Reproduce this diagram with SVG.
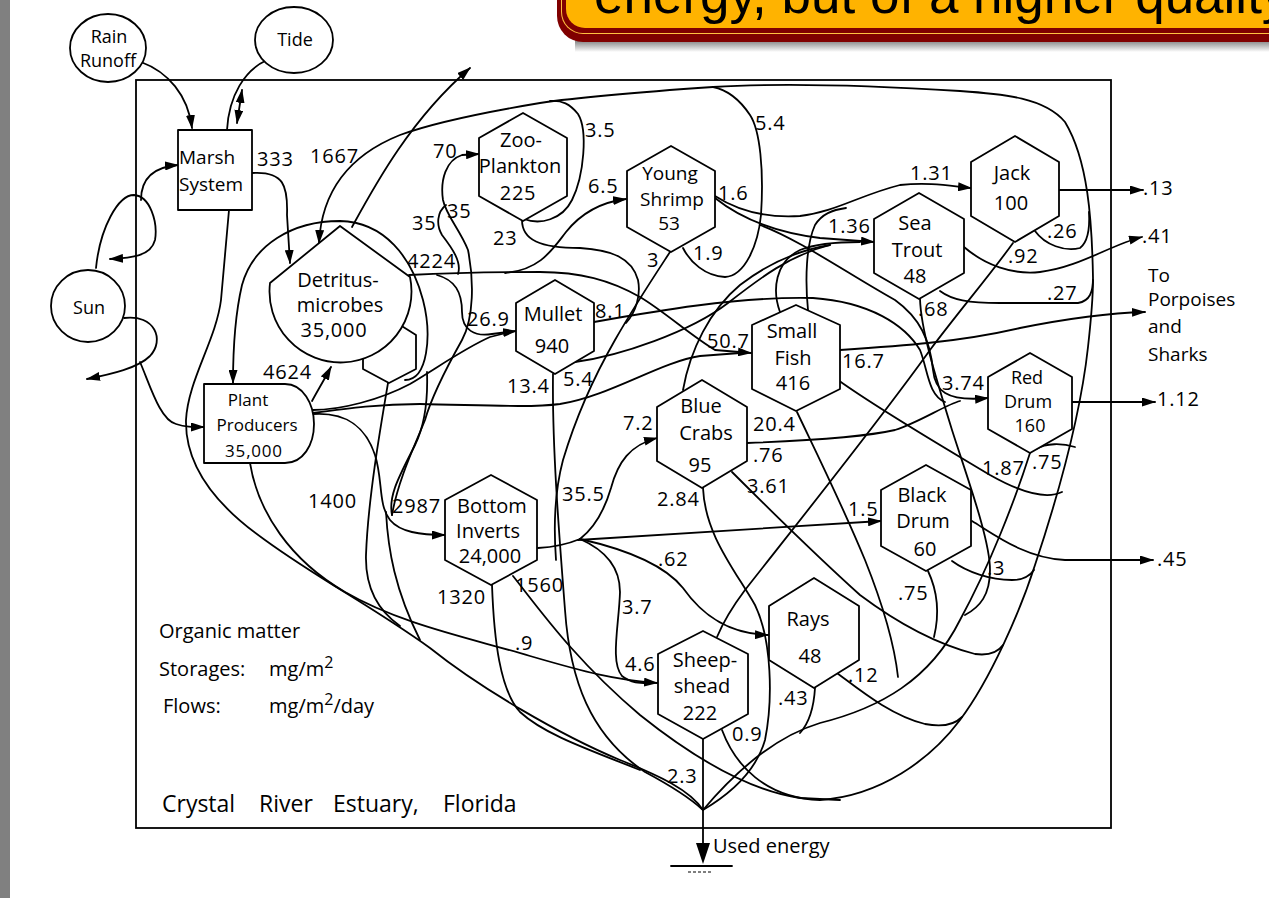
<svg xmlns="http://www.w3.org/2000/svg" width="1269" height="898" viewBox="0 0 1269 898">
<defs>
<style>
.ln{fill:none;stroke:#000;stroke-width:1.8;stroke-linecap:round;stroke-linejoin:round}
.ar{marker-end:url(#ah)}
.nd{fill:#fff;stroke:#000;stroke-width:1.8;stroke-linejoin:round}
.t{font-family:'Open Sans','DejaVu Sans',sans-serif;fill:#000}
.nt{font-size:20px;text-anchor:middle}
.num{font-size:20px;letter-spacing:0.8px}
</style>
<marker id="ah" viewBox="0 0 14 9" refX="13" refY="4.5" markerWidth="14" markerHeight="9" markerUnits="userSpaceOnUse" orient="auto-start-reverse"><path d="M0,0 L14,4.5 L0,9 z" fill="#000"/></marker>
<linearGradient id="sh" x1="0" y1="0" x2="0" y2="1"><stop offset="0" stop-color="#666"/><stop offset="1" stop-color="#fff"/></linearGradient>
</defs>
<rect width="1269" height="898" fill="#fff"/>
<rect x="0" y="0" width="10" height="898" fill="#808080"/>
<g id="banner">
<rect x="575" y="38" width="720" height="14" fill="url(#sh)"/>
<rect x="557" y="-40" width="740" height="82" rx="26" fill="#800000"/>
<rect x="561" y="-40" width="730" height="74" rx="22" fill="#FFC040"/>
<rect x="562" y="-40" width="728" height="73" rx="21" fill="#800000"/>
<rect x="566" y="-40" width="720" height="68" rx="19" fill="#FFB300"/>
<text x="594" y="13" style="font-family:'Liberation Sans',Arial,sans-serif;font-size:53px" fill="#000">energy, but of a higher quality</text>
</g>
<rect id="frame" x="136" y="80" width="975" height="748" fill="none" stroke="#000" stroke-width="1.8"/>
<g id="connectors">
<path class="ln ar" d="M141,62 C168,72 188,95 192,128"/>
<path class="ln" d="M267,60 C245,70 229,95 227,130"/>
<path class="ln ar" style="marker-start:url(#ah)" d="M242,90 L237,123"/>
<path class="ln ar" d="M96,268 C100,228 118,195 134,195 C150,196 158,222 155,240 C151,256 132,258 110,259"/>
<path class="ln ar" d="M141,200 C141,180 152,167 178,165"/>
<path class="ln ar" d="M124,318 C155,314 165,340 150,356 C138,368 112,374 87,379"/>
<path class="ln ar" d="M140,362 C150,385 160,420 176,424 C185,427 192,427 204,427"/>
<path class="ln" d="M229,210 L221,300 C216,340 188,380 186,420 C185,465 215,505 265,540 C320,580 370,605 430,648 C480,688 560,735 620,760 C660,776 690,790 703,810"/>
<path class="ln ar" d="M250,463 C258,512 290,560 345,592 C400,624 470,638 530,656 C585,672 615,680 657,683"/>
<path class="ln ar" d="M405,380 C428,380 432,335 423,300 C412,258 385,222 340,221 C292,221 253,245 242,285 C235,315 233,350 233,383"/>
<path class="ln ar" d="M252,173 C284,171 288,186 287,215 L290,263"/>
<path class="ln ar" d="M940,291 C952,300 968,303 1000,303 L1078,303 C1090,301 1093,292 1093,278 C1092,220 1088,160 1065,122 C1045,98 1005,94 960,91 C880,86 790,82 713,87 C640,92 580,97 540,103 C480,113 430,124 400,135 C355,153 322,185 319,243"/>
<path class="ln" d="M722,730 C735,765 765,798 820,800 C880,796 930,760 960,720 C990,680 1020,612 1035,565 C1055,505 1080,420 1088,347 C1091,320 1093,300 1093,280"/>
<path class="ln" d="M1030,453 C1015,500 990,565 960,620 C930,680 880,708 820,723 C770,738 730,778 703,810"/>
<path class="ln" d="M1036,449 C1046,443 1062,443 1075,447"/>
<path class="ln" d="M952,561 C967,572 990,580 1012,580 C1022,580 1029,577 1034,570"/>
<path class="ln" d="M928,571 C937,590 940,612 934,637"/>
<path class="ln ar" d="M972,521 C995,535 1025,558 1065,560 L1153,560"/>
<path class="ln ar" d="M578,540 L881,521"/>
<path class="ln" d="M538,548 C556,547 568,544 580,539"/>
<path class="ln ar" d="M580,539 C598,525 606,505 611,488 C618,462 630,445 657,438"/>
<path class="ln ar" d="M580,539 C620,548 663,563 683,588 C700,612 725,634 768,635"/>
<path class="ln" d="M580,539 C605,550 620,566 620,592 C619,625 610,662 622,676 C632,684 642,683 652,683"/>
<path class="ln" d="M492,585 C494,640 500,690 520,712 C545,735 590,750 640,770"/>
<path class="ln" d="M513,576 C540,610 575,660 640,715 C690,755 745,790 800,798 L840,800"/>
<path class="ln" d="M553,374 C552,450 560,545 565,610 C570,680 590,735 645,772 C675,788 690,798 703,810"/>
<path class="ln ar" d="M505,273 C540,270 552,250 566,232 C582,212 602,202 626,199"/>
<path class="ln" d="M522,220 C522,240 540,248 580,248 C612,250 632,258 638,280 C641,295 636,312 626,323"/>
<path class="ln" d="M670,252 C655,275 635,305 615,340 C595,375 575,420 563,460 C555,490 553,520 556,560"/>
<path class="ln" d="M524,219 C540,225 562,220 572,200 C584,176 588,130 578,114 C570,104 562,100 550,101"/>
<path class="ln" d="M683,248 C690,262 705,276 725,277 C745,276 758,245 761,215 C764,170 760,130 750,115 C740,100 728,90 713,87"/>
<path class="ln ar" d="M392,515 C398,480 415,445 425,420 C432,395 448,365 462,340 C474,318 474,280 468,250 C460,230 446,215 443,200 C440,180 446,160 462,155 L479,154"/>
<path class="ln" d="M458,274 C462,262 452,248 442,235 C436,225 437,212 446,205"/>
<path class="ln ar" d="M437,275 C455,280 462,292 462,312 C462,330 475,337 492,334 L516,331"/>
<path class="ln" d="M313,410 C340,410 380,400 410,384 C440,366 465,348 490,337 L506,333"/>
<path class="ln ar" d="M409,275 C450,273 500,272 540,272 C580,272 610,280 640,297 C665,312 690,335 715,350 L751,353"/>
<path class="ln" d="M313,413 C350,408 380,404 420,404 C480,405 530,408 560,404 C610,396 660,362 700,356 L740,353"/>
<path class="ln ar" d="M312,401 C318,390 324,380 331,367"/>
<path class="ln ar" d="M313,414 C345,412 365,425 375,455 C383,480 378,505 390,520 C400,532 420,535 445,535"/>
<path class="ln" d="M427,372 C428,400 425,425 415,445 C400,475 388,495 392,515"/>
<path class="ln" d="M388,383 C380,430 368,500 366,555 C365,590 380,612 400,626"/>
<path class="ln" d="M386,512 C388,550 395,590 420,640"/>
<path class="ln ar" d="M715,196 C740,212 770,218 800,216 C835,212 860,195 900,185 C930,182 950,186 971,188"/>
<path class="ln ar" d="M715,198 C745,222 780,233 820,238 C845,240 860,241 874,242"/>
<path class="ln ar" d="M760,225 C800,240 850,275 895,300 C920,318 930,340 933,370 C935,390 945,402 988,398"/>
<path class="ln" d="M575,362 C620,356 690,332 728,303 C760,278 790,255 830,245"/>
<path class="ln" d="M683,390 C690,350 710,310 740,285 C770,262 800,250 830,245"/>
<path class="ln" d="M780,312 C772,290 775,262 800,250 C815,244 840,242 860,242"/>
<path class="ln" d="M808,310 C805,280 806,245 815,225 C822,214 832,210 846,208"/>
<path class="ln" d="M594,322 C650,312 740,296 813,298 C870,302 905,325 920,350 C928,370 928,395 945,402"/>
<path class="ln ar" d="M840,350 C900,346 960,342 1020,328 C1070,318 1110,313 1145,312"/>
<path class="ln" d="M747,443 C800,441 860,438 895,430 C920,422 945,405 960,401"/>
<path class="ln ar" d="M1072,402 L1155,402"/>
<path class="ln ar" d="M1059,190 L1143,190"/>
<path class="ln ar" d="M964,247 C985,265 1012,275 1040,272 C1080,267 1110,245 1142,237"/>
<path class="ln" d="M1035,231 C1045,245 1065,252 1080,248 C1088,242 1090,230 1089,212"/>
<path class="ln" d="M1013,243 C990,275 960,310 930,350 C880,420 800,520 745,590 C730,610 722,625 717,637"/>
<path class="ln" d="M920,299 C921,330 935,375 952,430 C968,480 990,540 990,570 C990,595 980,607 965,615"/>
<path class="ln" d="M797,412 C815,450 840,500 865,560 C885,610 895,650 898,677"/>
<path class="ln" d="M703,488 C705,535 735,570 755,605 C772,640 773,700 765,740 C755,775 725,797 703,810"/>
<path class="ln" d="M732,472 C770,510 810,550 860,595 C900,625 940,645 975,654 C990,656 998,652 1003,645"/>
<path class="ln" d="M838,380 C880,410 940,445 990,475 C1020,492 1045,500 1062,492"/>
<path class="ln" d="M837,673 C860,690 890,715 925,724 C945,728 955,724 962,717"/>
<path class="ln" d="M815,688 C814,705 810,722 800,733"/>
<path class="ln" d="M703,739 L703,810"/>
<path class="ln ar" d="M352,227 C375,185 410,120 470,68"/>
<path class="ln" d="M703,810 L703,845"/>
<path d="M696,843 L710,843 L703,864 z" fill="#000"/>
<path class="ln" d="M671,866 L732,866"/>
<path d="M688,872 L712,872" stroke="#000" stroke-width="1.2" stroke-dasharray="3,2"/>
</g>
<g id="rain"><ellipse class="nd" cx="108" cy="48" rx="38" ry="34"/><text class="t nt" x="109" y="43" style="font-size:18px">Rain</text><text class="t nt" x="108" y="67" style="font-size:18px">Runoff</text></g>
<g id="tide"><ellipse class="nd" cx="294" cy="40" rx="39" ry="33"/><text class="t nt" x="295" y="46" style="font-size:18px">Tide</text></g>
<g id="sun"><ellipse class="nd" cx="88" cy="306" rx="37" ry="36"/><text class="t nt" x="89" y="314" style="font-size:18px">Sun</text></g>
<g id="marsh"><rect class="nd" x="178" y="130" width="74" height="80"/><text class="t" x="179" y="164" style="font-size:19px">Marsh</text><text class="t" x="179" y="191" style="font-size:19px">System</text></g>
<g id="plant"><path class="nd" d="M204,384 L285,384 C303,384 314,404 314,424 C314,445 303,463 285,463 L204,463 Z"/><text class="t nt" x="248" y="406" style="font-size:17px">Plant</text><text class="t nt" x="257" y="431" style="font-size:17px">Producers</text><text class="t nt" x="254" y="457" style="font-size:17px;letter-spacing:0.8px">35,000</text></g>
<g id="detritus"><path class="nd" d="M363,335 L389,318 L416,335 L416,369 L389,383 L363,369 Z"/><path class="nd" d="M270,283 L340,226 L410,277 A71,71 0 1 1 270,283 Z"/><text class="t nt" x="338" y="287">Detritus-</text><text class="t nt" x="340" y="312">microbes</text><text class="t nt" x="334" y="337" style="letter-spacing:0.8px">35,000</text></g>
<g id="zoo"><polygon class="nd" points="523,113 567,138 567,196 523,221 479,196 479,138"/><text class="t nt" x="521" y="147">Zoo-</text><text class="t nt" x="520" y="173">Plankton</text><text class="t nt" x="518" y="200" style="letter-spacing:0.8px">225</text></g>
<g id="shrimp" style="font-size:19px"><polygon class="nd" points="671,146 715,171 715,227 671,252 627,227 627,171"/><text class="t nt" x="670" y="180" style="font-size:19px">Young</text><text class="t nt" x="672" y="206" style="font-size:19px">Shrimp</text><text class="t nt" x="669" y="230" style="font-size:19px">53</text></g>
<g id="jack"><polygon class="nd" points="1015,136 1059,162 1059,216 1015,242 971,216 971,162"/><text class="t nt" x="1012" y="180">Jack</text><text class="t nt" x="1011" y="210">100</text></g>
<g id="seatrout"><polygon class="nd" points="919,193 964,219 964,273 919,299 874,273 874,219"/><text class="t nt" x="915" y="230">Sea</text><text class="t nt" x="917" y="257">Trout</text><text class="t nt" x="915" y="283">48</text></g>
<g id="mullet"><polygon class="nd" points="555,280 594,303 594,351 555,374 516,351 516,303"/><text class="t nt" x="553" y="321">Mullet</text><text class="t nt" x="552" y="353">940</text></g>
<g id="smallfish"><polygon class="nd" points="796,305 840,325 840,389 796,411 752,389 752,325"/><text class="t nt" x="792" y="338">Small</text><text class="t nt" x="793" y="365">Fish</text><text class="t nt" x="793" y="390">416</text></g>
<g id="bluecrabs"><polygon class="nd" points="702,380 747,407 747,461 702,488 657,461 657,407"/><text class="t nt" x="701" y="413">Blue</text><text class="t nt" x="706" y="440">Crabs</text><text class="t nt" x="700" y="472">95</text></g>
<g id="reddrum"><polygon class="nd" points="1030,353 1072,377 1072,429 1030,453 988,429 988,377"/><text class="t nt" x="1027" y="384" style="font-size:18px">Red</text><text class="t nt" x="1028" y="408" style="font-size:18px">Drum</text><text class="t nt" x="1030" y="432" style="font-size:18px">160</text></g>
<g id="blackdrum"><polygon class="nd" points="926,465 971,490 971,546 926,571 881,546 881,490"/><text class="t nt" x="922" y="502">Black</text><text class="t nt" x="923" y="528">Drum</text><text class="t nt" x="925" y="556">60</text></g>
<g id="bottominverts"><polygon class="nd" points="491,475 537,500 537,560 491,585 445,560 445,500"/><text class="t nt" x="492" y="513">Bottom</text><text class="t nt" x="488" y="538">Inverts</text><text class="t nt" x="490" y="563">24,000</text></g>
<g id="rays"><polygon class="nd" points="814,578 859,606 859,660 814,688 769,660 769,606"/><text class="t nt" x="808" y="626">Rays</text><text class="t nt" x="810" y="663">48</text></g>
<g id="sheepshead"><polygon class="nd" points="703,631 748,654 748,714 703,739 658,714 658,654"/><text class="t nt" x="705" y="667">Sheep-</text><text class="t nt" x="702" y="693">shead</text><text class="t nt" x="700" y="720">222</text></g>
<g id="labels" class="t num">
<text x="257" y="166">333</text><text x="310" y="163">1667</text><text x="433" y="158">70</text><text x="585" y="137">3.5</text><text x="755" y="130">5.4</text>
<text x="412" y="230">35</text><text x="447" y="218">35</text><text x="493" y="245">23</text><text x="407" y="268">4224</text><text x="588" y="193">6.5</text>
<text x="718" y="200">1.6</text><text x="647" y="267">3</text><text x="693" y="260">1.9</text><text x="910" y="180">1.31</text><text x="828" y="233">1.36</text>
<text x="1143" y="195">.13</text><text x="1142" y="243">.41</text><text x="1047" y="238">.26</text><text x="1008" y="263">.92</text><text x="1047" y="300">.27</text>
<text x="918" y="316">.68</text><text x="842" y="368">16.7</text><text x="942" y="390">3.74</text><text x="1157" y="406">1.12</text><text x="982" y="475">1.87</text>
<text x="1032" y="469">.75</text><text x="848" y="516">1.5</text><text x="1157" y="566">.45</text><text x="987" y="575">.3</text><text x="898" y="600">.75</text>
<text x="848" y="682">.12</text><text x="467" y="326">26.9</text><text x="595" y="318">8.1</text><text x="707" y="348">50.7</text><text x="507" y="393">13.4</text>
<text x="563" y="386">5.4</text><text x="623" y="430">7.2</text><text x="753" y="431">20.4</text><text x="753" y="462">.76</text><text x="562" y="501">35.5</text>
<text x="657" y="506">2.84</text><text x="747" y="493">3.61</text><text x="658" y="566">.62</text><text x="392" y="513">2987</text><text x="308" y="508">1400</text>
<text x="437" y="604">1320</text><text x="515" y="592">1560</text><text x="622" y="614">3.7</text><text x="515" y="650">.9</text><text x="625" y="671">4.6</text>
<text x="778" y="705">.43</text><text x="732" y="741">0.9</text><text x="667" y="783">2.3</text><text x="263" y="379">4624</text>
</g>
<g id="notes" class="t" style="font-size:19px">
<text x="1148" y="282">To</text><text x="1148" y="306">Porpoises</text><text x="1148" y="333">and</text><text x="1148" y="361">Sharks</text>
<text x="713" y="853" style="font-size:20px">Used energy</text>
<text x="159" y="638" style="font-size:20px">Organic matter</text>
<text x="159" y="676" style="font-size:20px">Storages:</text><text x="269" y="676" style="font-size:20px">mg/m<tspan dy="-8" style="font-size:16px">2</tspan></text>
<text x="163" y="713" style="font-size:20px">Flows:</text><text x="269" y="713" style="font-size:20px">mg/m<tspan dy="-8" style="font-size:16px">2</tspan><tspan dy="8">/day</tspan></text>
<text x="162" y="812" style="font-size:23px">Crystal</text><text x="259" y="812" style="font-size:23px">River</text><text x="333" y="812" style="font-size:23px">Estuary,</text><text x="443" y="812" style="font-size:23px">Florida</text>
</g>
</svg>
